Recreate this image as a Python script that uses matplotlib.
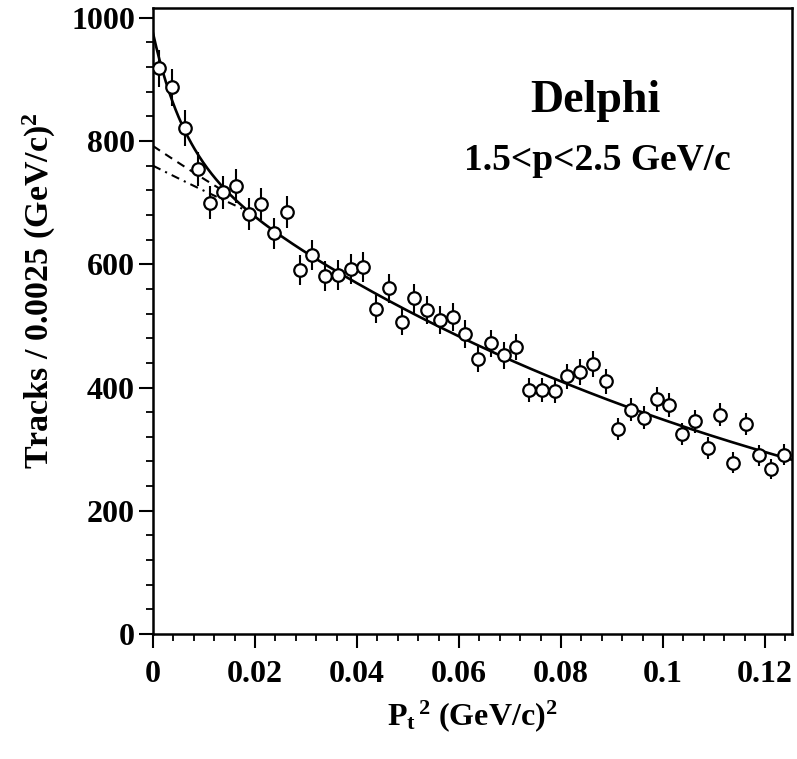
import numpy as np
import matplotlib
matplotlib.use('Agg')
import matplotlib.pyplot as plt
from matplotlib.ticker import MultipleLocator, FuncFormatter

# bin centres, 0.0025 (GeV/c)^2 wide bins
bin_width = 0.0025
n_bins = 50
pt2 = (np.arange(n_bins) + 0.5) * bin_width

tracks = [918, 887, 821, 754, 700, 717, 727, 681, 698, 650,
          685, 591, 615, 581, 583, 593, 595, 527, 561, 507,
          545, 526, 509, 515, 487, 447, 472, 452, 466, 396,
          396, 394, 418, 425, 438, 410, 333, 364, 351, 381,
          372, 324, 345, 302, 356, 278, 341, 290, 268, 291]
tracks = np.array(tracks, dtype=float)
errors = np.sqrt(tracks)

# double exponential fit: A exp(-a x) + B exp(-b x)
fit_fast = (185.0, 165.0)
fit_slow = (790.0, 8.2)
# single exponential extrapolations to pt2 = 0
dash_fit = (792.0, 7.0, 0.0145)
dashdot_fit = (760.0, 5.5, 0.018)

title_size = 33
sub_size = 27
tick_size = 23
xlabel_size = 23
ylabel_size = 24.5

plt.rcParams['font.family'] = 'Liberation Serif'
plt.rcParams['font.weight'] = 'bold'
plt.rcParams['mathtext.fontset'] = 'custom'
plt.rcParams['mathtext.rm'] = 'Liberation Serif:bold'
plt.rcParams['mathtext.it'] = 'Liberation Serif:bold'
plt.rcParams['mathtext.bf'] = 'Liberation Serif:bold'

my_dpi = 100
fig = plt.figure(figsize=(797 / my_dpi, 759 / my_dpi), dpi=my_dpi)
ax = fig.add_axes([0.192, 0.1647, 0.8017, 0.8248])

xs = np.linspace(0, 0.1253, 600)
fit = fit_fast[0] * np.exp(-fit_fast[1] * xs) + fit_slow[0] * np.exp(-fit_slow[1] * xs)
ax.plot(xs, fit, color='black', lw=1.9, zorder=2)

xd = np.linspace(0, dash_fit[2], 50)
ax.plot(xd, dash_fit[0] * np.exp(-dash_fit[1] * xd), color='black', lw=1.5,
        linestyle=(0, (4, 3)), zorder=2)
xdd = np.linspace(0, dashdot_fit[2], 50)
ax.plot(xdd, dashdot_fit[0] * np.exp(-dashdot_fit[1] * xdd), color='black', lw=1.5,
        linestyle=(0, (4, 2.5, 1, 2.5)), zorder=2)

ax.errorbar(pt2, tracks, yerr=errors, fmt='o', mfc='white', mec='black',
            mew=1.6, ms=9, ecolor='black', elinewidth=1.5, capsize=0, zorder=3)

ax.set_xlim(0, 0.1253)
ax.set_ylim(0, 1016)
ax.xaxis.set_major_locator(MultipleLocator(0.02))
ax.xaxis.set_minor_locator(MultipleLocator(0.004))
ax.yaxis.set_major_locator(MultipleLocator(200))
ax.yaxis.set_minor_locator(MultipleLocator(40))
ax.xaxis.set_major_formatter(FuncFormatter(lambda v, p: '{:g}'.format(round(v, 3))))

ax.tick_params(which='major', direction='out', length=10, width=1.5, labelsize=tick_size)
ax.tick_params(which='minor', direction='out', length=5, width=1.3)
ax.tick_params(axis='x', which='major', pad=9)
ax.tick_params(axis='y', which='major', pad=3)
for side in ['top', 'right', 'bottom', 'left']:
    ax.spines[side].set_linewidth(1.8)

ax.set_xlabel(r'P$_{\rm t}$$^{\,2}$ (GeV/c)$^2$', size=xlabel_size, fontweight='bold')
ax.set_ylabel(r'Tracks / 0.0025 (GeV/c)$^2$', size=ylabel_size, fontweight='bold')
ax.xaxis.set_label_coords(0.499, -0.103)
ax.yaxis.set_label_coords(-0.149, 0.548)

ax.text(0.0867, 865, 'Delphi', size=title_size, fontweight='bold', ha='center', va='center')
ax.text(0.0872, 769, '1.5<p<2.5 GeV/c', size=sub_size, fontweight='bold', ha='center', va='center')

plt.savefig('out.png', dpi=my_dpi)
